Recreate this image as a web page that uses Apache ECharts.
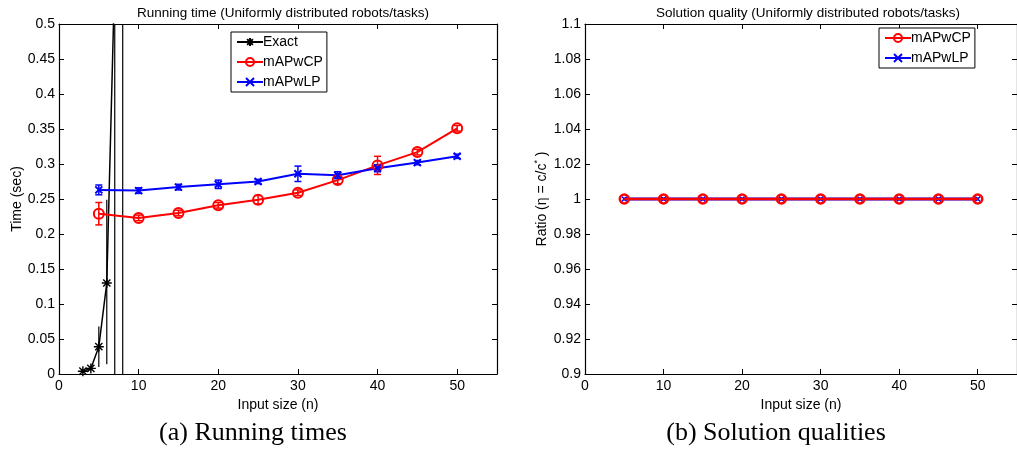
<!DOCTYPE html>
<html>
<head>
<meta charset="utf-8">
<script src="https://cdn.jsdelivr.net/npm/echarts@6/dist/echarts.min.js"></script>
<style>
html,body{margin:0;padding:0;background:#fff;}
#chart{width:1017px;height:454px;}
</style>
</head>
<body>
<div id="chart"></div>
<script>
// ---- data ----
const xTicks = [0, 10, 20, 30, 40, 50];
const timeTicks = [0, 0.05, 0.1, 0.15, 0.2, 0.25, 0.3, 0.35, 0.4, 0.45, 0.5];
const ratioTicks = [0.9, 0.92, 0.94, 0.96, 0.98, 1, 1.02, 1.04, 1.06, 1.08, 1.1];

const nExact = [3, 4, 5, 6, 7, 8];
const exactTime = [0.004, 0.008, 0.039, 0.13, 0.57, 2.5];
const exactLow = [0.003, 0.006, 0.010, 0.014, -0.5, -1.5];
const exactHigh = [0.005, 0.010, 0.068, 0.249, 1.6, 6.5];

const nSizes = [5, 10, 15, 20, 25, 30, 35, 40, 45, 50];
const cpTime = [0.229, 0.223, 0.230, 0.241, 0.249, 0.259, 0.277, 0.298, 0.317, 0.351];
const cpErr = [0.016, 0.004, 0.004, 0.004, 0.006, 0.004, 0.005, 0.013, 0.004, 0.004];
const lpTime = [0.263, 0.262, 0.267, 0.271, 0.275, 0.286, 0.284, 0.294, 0.302, 0.311];
const lpErr = [0.007, 0.004, 0.004, 0.006, 0.003, 0.011, 0.005, 0.005, 0.003, 0.003];

const cpRatio = [1, 1, 1, 1, 1, 1, 1, 1, 1, 1];
const lpRatio = [1, 1, 1, 1, 1, 1, 1, 1, 1, 1];

// ---- helpers ----
const FONT = 'Liberation Sans, Arial, sans-serif';
const starPath = 'path://M0,-5L0,5M-5,0L5,0M-3.6,-3.6L3.6,3.6M-3.6,3.6L3.6,-3.6';
const xPath = 'path://M-4,-4L4,4M-4,4L4,-4';

function pairs(xs, ys) { return xs.map((x, i) => [x, ys[i]]); }

function errRender(capHalf, color, lw) {
  return function (params, api) {
    const x = api.value(0), lo = api.value(1), hi = api.value(2);
    const p1 = api.coord([x, lo]), p2 = api.coord([x, hi]);
    const st = { stroke: color, lineWidth: lw };
    const ch = [{ type: 'line', shape: { x1: p1[0], y1: p1[1], x2: p2[0], y2: p2[1] }, style: st }];
    if (capHalf > 0) {
      ch.push({ type: 'line', shape: { x1: p1[0] - capHalf, y1: p1[1], x2: p1[0] + capHalf, y2: p1[1] }, style: st });
      ch.push({ type: 'line', shape: { x1: p2[0] - capHalf, y1: p2[1], x2: p2[0] + capHalf, y2: p2[1] }, style: st });
    }
    return { type: 'group', children: ch };
  };
}

function xAxisPair(gi) {
  const common = {
    type: 'value', gridIndex: gi, min: 0, max: 55,
    axisLine: { show: true, onZero: false, lineStyle: { color: '#000', width: 1.2 } },
    axisTick: { show: true, inside: true, length: 5, customValues: xTicks, lineStyle: { color: '#000' } },
    splitLine: { show: false }
  };
  return [
    Object.assign({}, common, {
      position: 'bottom',
      axisLabel: { show: true, customValues: xTicks, color: '#000', fontFamily: FONT, fontSize: 14, margin: 5 },
      name: 'Input size (n)', nameLocation: 'middle', nameGap: 14,
      nameTextStyle: { color: '#000', fontFamily: FONT, fontSize: 14 }
    }),
    Object.assign({}, common, { position: 'top', axisLabel: { show: false } })
  ];
}

function yAxisPair(gi, min, max, interval, ticks, name, nameGap, rich) {
  const common = {
    type: 'value', gridIndex: gi, min: min, max: max, interval: interval,
    axisLine: { show: true, onZero: false, lineStyle: { color: '#000', width: 1.2 } },
    axisTick: { show: true, inside: true, length: 5, customValues: ticks, lineStyle: { color: '#000' } },
    splitLine: { show: false }
  };
  const nts = { color: '#000', fontFamily: FONT, fontSize: 14 };
  if (rich) nts.rich = rich;
  return [
    Object.assign({}, common, {
      position: 'left',
      axisLabel: {
        show: true, customValues: ticks, color: '#000', fontFamily: FONT, fontSize: 14, margin: 4,
        formatter: v => String(+v.toFixed(3))
      },
      name: name, nameLocation: 'middle', nameGap: nameGap, nameTextStyle: nts
    }),
    Object.assign({}, common, { position: 'right', axisLabel: { show: false } })
  ];
}

const xs = xAxisPair(0).concat(xAxisPair(1));
const ys = yAxisPair(0, 0, 0.5, 0.05, timeTicks, 'Time (sec)', 35, null)
  .concat(yAxisPair(1, 0.9, 1.1, 0.02, ratioTicks, 'Ratio (η = c/c{sup|*} )', 34,
    { sup: { fontSize: 9, fontFamily: FONT, color: '#000', padding: [0, 0, 9, 0] } }));

const RED = '#ff0000', BLUE = '#0000ff', BLACK = '#000000';
const CAPFONT = '26px "Liberation Serif", "Times New Roman", serif';

const option = {
  animation: false,
  backgroundColor: '#fff',
  grid: [
    { left: 59, right: 520, top: 24, bottom: 80 },
    { left: 585, right: -4, top: 24, bottom: 80 }
  ],
  title: [
    { text: 'Running time (Uniformly distributed robots/tasks)', left: 278, top: 1, textAlign: 'center',
      textStyle: { fontFamily: FONT, fontSize: 13.5, fontWeight: 'normal', color: '#000' } },
    { text: 'Solution quality (Uniformly distributed robots/tasks)', left: 803, top: 1, textAlign: 'center',
      textStyle: { fontFamily: FONT, fontSize: 13.5, fontWeight: 'normal', color: '#000' } }
  ],
  legend: [
    { data: ['Exact', 'mAPwCP', 'mAPwLP'], orient: 'vertical', left: 231, top: 32,
      itemWidth: 26, itemHeight: 10, itemGap: 6, padding: [3, 4, 3, 5],
      borderColor: '#000', borderWidth: 1, backgroundColor: '#fff', selectedMode: false,
      textStyle: { fontFamily: FONT, fontSize: 14, color: '#000', padding: [0, 0, 0, -5] } },
    { data: ['mAPwCP', 'mAPwLP'], orient: 'vertical', left: 879, top: 28,
      itemWidth: 26, itemHeight: 10, itemGap: 6, padding: [3, 4, 3, 5],
      borderColor: '#000', borderWidth: 1, backgroundColor: '#fff', selectedMode: false,
      textStyle: { fontFamily: FONT, fontSize: 14, color: '#000', padding: [0, 0, 0, -5] } }
  ],
  xAxis: xs,
  yAxis: ys,
  graphic: [
    { type: 'text', x: 253, y: 433, style: { text: '(a) Running times', fill: '#000', font: CAPFONT, textAlign: 'center', textVerticalAlign: 'middle' } },
    { type: 'text', x: 776, y: 433, style: { text: '(b) Solution qualities', fill: '#000', font: CAPFONT, textAlign: 'center', textVerticalAlign: 'middle' } }
  ],
  series: [
    // left chart error bars
    { type: 'custom', name: 'errExact', xAxisIndex: 0, yAxisIndex: 0, clip: true, z: 1,
      data: nExact.map((n, i) => [n, exactLow[i], exactHigh[i]]), renderItem: errRender(0, BLACK, 1.2) },
    { type: 'custom', name: 'errCP', xAxisIndex: 0, yAxisIndex: 0, clip: true, z: 1,
      data: nSizes.map((n, i) => [n, cpTime[i] - cpErr[i], cpTime[i] + cpErr[i]]), renderItem: errRender(3.5, RED, 1.5) },
    { type: 'custom', name: 'errLP', xAxisIndex: 0, yAxisIndex: 0, clip: true, z: 1,
      data: nSizes.map((n, i) => [n, lpTime[i] - lpErr[i], lpTime[i] + lpErr[i]]), renderItem: errRender(3.5, BLUE, 1.5) },
    // left chart lines
    { type: 'line', name: 'Exact', xAxisIndex: 0, yAxisIndex: 0, clip: true, z: 2,
      data: pairs(nExact, exactTime), symbol: starPath, symbolSize: 10, showAllSymbol: true,
      lineStyle: { color: BLACK, width: 1.5 },
      itemStyle: { color: 'none', borderColor: BLACK, borderWidth: 1.4 } },
    { type: 'line', name: 'mAPwCP', xAxisIndex: 0, yAxisIndex: 0, clip: true, z: 2,
      data: pairs(nSizes, cpTime), symbol: 'circle', symbolSize: 10,
      lineStyle: { color: RED, width: 2 },
      itemStyle: { color: 'rgba(255,255,255,0)', borderColor: RED, borderWidth: 2 } },
    { type: 'line', name: 'mAPwLP', xAxisIndex: 0, yAxisIndex: 0, clip: true, z: 2,
      data: pairs(nSizes, lpTime), symbol: xPath, symbolSize: 7,
      lineStyle: { color: BLUE, width: 2 },
      itemStyle: { color: 'none', borderColor: BLUE, borderWidth: 2 } },
    // right chart
    { type: 'line', name: 'mAPwLP', xAxisIndex: 2, yAxisIndex: 2, clip: true, z: 2,
      data: pairs(nSizes, lpRatio), symbol: xPath, symbolSize: 5,
      lineStyle: { color: BLUE, width: 3 },
      itemStyle: { color: 'none', borderColor: BLUE, borderWidth: 1.5 } },
    { type: 'line', name: 'mAPwCP', xAxisIndex: 2, yAxisIndex: 2, clip: true, z: 3,
      data: pairs(nSizes, cpRatio), symbol: 'circle', symbolSize: 9,
      lineStyle: { color: RED, width: 2.5 },
      itemStyle: { color: 'rgba(255,255,255,0)', borderColor: RED, borderWidth: 2.5 } }
  ]
};

const chart = echarts.init(document.getElementById('chart'), null, { renderer: 'canvas' });
chart.setOption(option);
</script>
</body>
</html>
